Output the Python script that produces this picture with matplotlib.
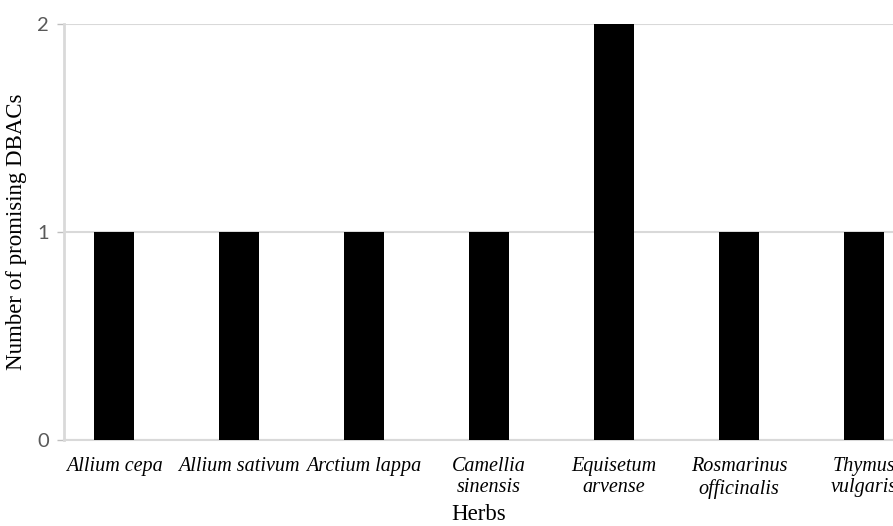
import matplotlib.pyplot as plt
import numpy as np

herbs = ["Allium cepa", "Allium sativum", "Arctium lappa", "Camellia\nsinensis",
         "Equisetum\narvense", "Rosmarinus\nofficinalis", "Thymus\nvulgaris"]
dbac_counts = [1, 1, 1, 1, 2, 1, 1]
y_ticks = [0, 1, 2]

grid_grey = "#d9d9d9"

fig = plt.figure(figsize=(8.93, 5.26), dpi=100)
ax = fig.add_axes([64 / 893, 1 - 440 / 526, 1 - 64 / 893, (440 - 24) / 526])

x = np.arange(len(herbs))
ax.bar(x, dbac_counts, width=0.32, color="black", zorder=3)

ax.set_xlim(-0.4, 6.23)
ax.set_ylim(0, 2)
ax.set_yticks(y_ticks)
ax.set_yticklabels([str(v) for v in y_ticks], family="Lato", fontsize=14.5, color="#595959")
ax.set_xticks(x)
ax.set_xticklabels(herbs, family="Liberation Serif", style="italic", fontsize=14.5,
                   linespacing=1.2)
ax.tick_params(axis="x", length=0, pad=12)
ax.tick_params(axis="y", length=5, width=1, color="#bfbfbf", pad=6)

ax.yaxis.grid(True, color=grid_grey, linewidth=1.5, zorder=0)
for side in ["top", "right"]:
    ax.spines[side].set_visible(False)
ax.spines["left"].set_color(grid_grey)
ax.spines["left"].set_linewidth(2)
ax.spines["bottom"].set_color(grid_grey)
ax.spines["bottom"].set_linewidth(1.5)

ax.set_xlabel("Herbs", family="Liberation Serif", fontsize=16.5, labelpad=4)
ax.set_ylabel("Number of promising DBACs", family="Liberation Serif", fontsize=16.5, labelpad=7)

fig.savefig("out.png", dpi=100)
